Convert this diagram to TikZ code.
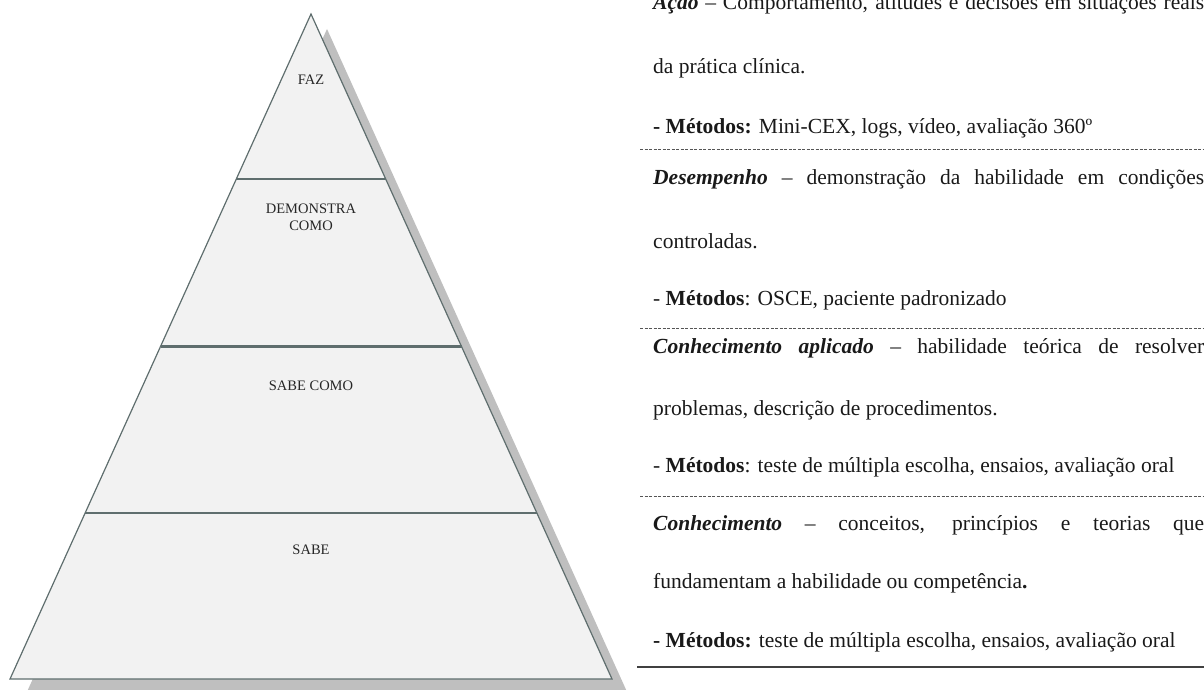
\documentclass[tikz,border=0pt]{standalone}
\usepackage{fontspec}
\usetikzlibrary{calc}
\setmainfont{Liberation Serif}
\definecolor{pfill}{HTML}{F2F2F2}
\definecolor{pline}{HTML}{5F6E6E}
\definecolor{pshadow}{HTML}{BFBFBF}
\definecolor{dashc}{HTML}{555555}
\tikzset{
  pyr/.style={fill=pfill, draw=pline, line width=1.2pt, line join=miter},
  divline/.style={draw=pline, line width=2.2pt},
  lvl/.style={font=\fontsize{14.5}{17}\selectfont, align=center, inner sep=0pt, anchor=base, text=black!85},
  desc/.style={font=\fontsize{21.5}{24}\selectfont, inner sep=0pt, anchor=base west, text=black!90},
  sep/.style={draw=dashc, line width=0.8pt, dash pattern=on 3pt off 1.5pt},
  solidsep/.style={draw=black!75, line width=1.1pt}
}
\newcommand{\jline}[1]{\makebox[551pt][s]{#1}}
\begin{document}
\begin{tikzpicture}[x=1pt,y=-1pt]
\useasboundingbox (0,0) rectangle (1204,690);
% pyramid corners
\coordinate (A) at (311,14);
\coordinate (BL) at (10,679);
\coordinate (BR) at (612,679);
% shadow
\fill[pshadow] ([shift={(16,15)}]A) -- ([shift={(16,15)}]BR) -- ([shift={(16,15)}]BL) -- cycle;
% pyramid
\path[pyr] (A) -- (BR) -- (BL) -- cycle;
% divisions
\coordinate (L1) at ($(A)!0.2485!(BL)$);
\coordinate (R1) at ($(A)!0.2485!(BR)$);
\coordinate (L2) at ($(A)!0.5!(BL)$);
\coordinate (R2) at ($(A)!0.5!(BR)$);
\coordinate (L3) at ($(A)!0.75!(BL)$);
\coordinate (R3) at ($(A)!0.75!(BR)$);
\draw[divline] (L1) -- (R1);
\draw[divline] (L2) -- (R2);
\draw[divline] (L3) -- (R3);
% labels
\node[lvl] (faz) at (311,85) {FAZ};
\node[lvl] (dem) at (311,230) {DEMONSTRA\\COMO};
\node[lvl] (sbc) at (311,390) {SABE COMO};
\node[lvl] (sab) at (311,554) {SABE};
% descriptions
\node[desc] (t1) at (653,10) {\jline{\textbf{\textit{Ação}} – Comportamento, atitudes e decisões em situações reais}};
\node[desc] (t2) at (653,74) {da prática clínica.};
\node[desc] (t3) at (653,133) {\textbf{- Métodos:} Mini-CEX, logs, vídeo, avaliação 360º};
\draw[sep] (640,149) -- (1204,149);
\node[desc] (t4) at (653,184) {\jline{\textbf{\textit{Desempenho}} – demonstração da habilidade em condições}};
\node[desc] (t5) at (653,248) {controladas.};
\node[desc] (t6) at (653,305) {- \textbf{Métodos}: OSCE, paciente padronizado};
\draw[sep] (640,328) -- (1204,328);
\node[desc] (t7) at (653,353) {\jline{\textbf{\textit{Conhecimento aplicado}} – habilidade teórica de resolver}};
\node[desc] (t8) at (653,415) {problemas, descrição de procedimentos.};
\node[desc] (t9) at (653,472) {- \textbf{Métodos}: teste de múltipla escolha, ensaios, avaliação oral};
\draw[sep] (640,496) -- (1204,496);
\node[desc] (t10) at (653,530) {\jline{\textbf{\textit{Conhecimento}} – conceitos, princípios e teorias que}};
\node[desc] (t11) at (653,588) {fundamentam a habilidade ou competência\textbf{.}};
\node[desc] (t12) at (653,647) {\textbf{- Métodos:} teste de múltipla escolha, ensaios, avaliação oral};
\draw[solidsep] (637,667) -- (1204,667);
\end{tikzpicture}
\end{document}
